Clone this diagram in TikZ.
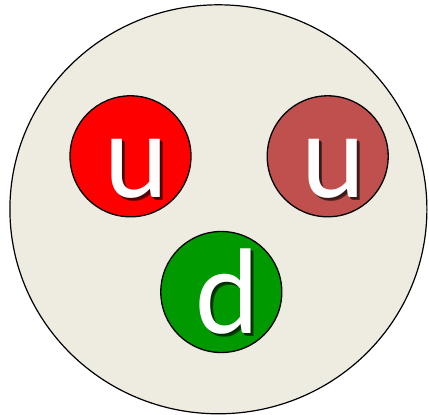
\documentclass[tikz,border=0pt]{standalone}
\usepackage{fontspec}
\setmainfont{Carlito}
\usetikzlibrary{positioning, calc, shapes.geometric}
\definecolor{bgsand}{HTML}{EEECE1}
\definecolor{qred}{HTML}{FF0000}
\definecolor{qbrown}{HTML}{C0504D}
\definecolor{qgreen}{HTML}{009900}
% letter with a soft drop shadow behind it
\newcommand{\shadowletter}[2]{%
  \makebox[0pt][l]{\hspace{3pt}\raisebox{-3pt}{\color{#1}#2}}%
  \makebox[0pt][l]{\hspace{2pt}\raisebox{-2pt}{\color{#1!70!black}#2}}%
  \color{white}#2}
\begin{document}
\begin{tikzpicture}[x=1pt, y=-1pt,
    quark/.style={circle, draw=black, line width=1.3pt, minimum size=121pt, inner sep=0pt},
    flavour/.style={anchor=base, inner sep=0pt,
                    font=\fontsize{122}{122}\selectfont}]
    \useasboundingbox (0,0) rectangle (429,415);
    % proton body
    \node[ellipse, draw=black, line width=1.2pt, fill=bgsand,
          minimum width=417pt, minimum height=409pt, inner sep=0pt] (p) at (218.4,209.3) {};
    % quarks
    \node[quark, fill=qred]   (u1) at (130.5,156.3) {};
    \node[quark, fill=qbrown] (u2) at (327.7,156.3) {};
    \node[quark, fill=qgreen] (d)  at (221.3,292)   {};
    % letters
    \node[flavour] (u1txt) at ($(u1)+(6,41)$) {\shadowletter{qred!45!black}{u}};
    \node[flavour] (u2txt) at ($(u2)+(6,41)$) {\shadowletter{qbrown!45!black}{u}};
    \node[flavour] (dtxt)  at ($(d)+(6,41)$)  {\shadowletter{qgreen!45!black}{d}};
  \end{tikzpicture}
\end{document}
